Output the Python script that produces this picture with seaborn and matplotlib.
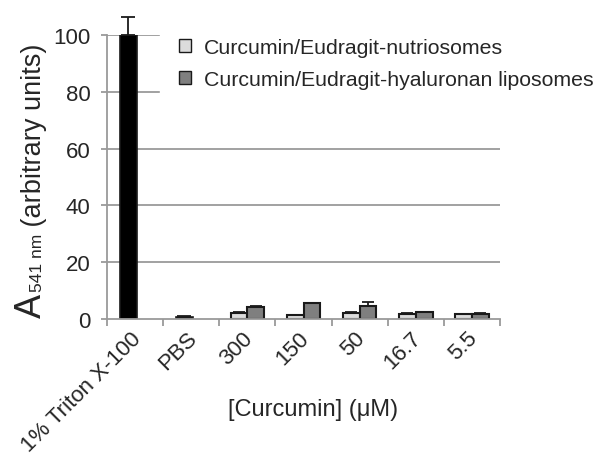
import numpy as np
import pandas as pd
import seaborn as sns
import matplotlib
matplotlib.use("Agg")
import matplotlib.pyplot as plt
from matplotlib.patches import Patch
import matplotlib.transforms as mtransforms

# categories on the x axis
categories = ["1% Triton X-100", "PBS", "300", "150", "50", "16.7", "5.5"]
conc = ["300", "150", "50", "16.7", "5.5"]

# controls (single black bars)
ctrl_names = ["1% Triton X-100", "PBS"]
ctrl_vals = [100.0, 0.7]
ctrl_err = [6.5, 0.3]

# formulations
nutri_vals = [2.1, 1.4, 2.0, 1.7, 1.7]
nutri_err = [0.3, 0.1, 0.6, 0.3, 0.2]
hyal_vals = [4.3, 5.5, 4.7, 2.3, 1.8]
hyal_err = [0.4, 0.3, 1.3, 0.3, 0.2]

lab_nutri = "Curcumin/Eudragit-nutriosomes"
lab_hyal = "Curcumin/Eudragit-hyaluronan liposomes"

df = pd.DataFrame({
    "conc": conc * 2,
    "value": nutri_vals + hyal_vals,
    "series": [lab_nutri] * 5 + [lab_hyal] * 5,
})

sns.set_style("white")
plt.rcParams["font.family"] = ["Liberation Sans", "DejaVu Sans"]

W, H = 598, 456
fig = plt.figure(figsize=(W / 100, H / 100), dpi=100)
ax = fig.add_axes([107 / W, 1 - 320 / H, 393 / W, 284 / H])

grid_c = "#9a9a9a"
ax.set_ylim(0, 100)
ax.set_xlim(-0.5, len(categories) - 0.5)
for y in [20, 40, 60, 80, 100]:
    ax.axhline(y, color=grid_c, lw=1.3, zorder=0)

edge = "#1a1a1a"
sns.barplot(data=df, x="conc", y="value", hue="series", order=categories,
            hue_order=[lab_nutri, lab_hyal],
            palette=["#dcdcdc", "#7f7f7f"], width=0.6, errorbar=None,
            edgecolor=edge, linewidth=1.5, ax=ax, legend=False, zorder=2)

# error bars for formulations (upper only)
idx = np.array([categories.index(c) for c in conc])
ax.errorbar(idx - 0.15, nutri_vals, yerr=[np.zeros(5), nutri_err], fmt="none",
            ecolor=edge, elinewidth=1.3, capsize=4, capthick=1.3, zorder=3)
ax.errorbar(idx + 0.15, hyal_vals, yerr=[np.zeros(5), hyal_err], fmt="none",
            ecolor=edge, elinewidth=1.3, capsize=4, capthick=1.3, zorder=3)

# controls
cidx = np.array([categories.index(c) for c in ctrl_names]) - 0.12
ax.bar(cidx, ctrl_vals, width=0.3, color="black", edgecolor=edge, lw=1.2, zorder=2)
ax.errorbar(cidx, ctrl_vals, yerr=[np.zeros(2), ctrl_err], fmt="none",
            ecolor=edge, elinewidth=1.3, capsize=5, capthick=1.3, zorder=3,
            clip_on=False)

# axes styling
for s in ["top", "right"]:
    ax.spines[s].set_visible(False)
for s in ["left", "bottom"]:
    ax.spines[s].set_color(grid_c)
    ax.spines[s].set_linewidth(1.3)

ax.set_yticks([0, 20, 40, 60, 80, 100])
ax.tick_params(axis="y", direction="out", length=4, width=1.3, color=grid_c,
               labelsize=16, pad=8, left=True)
ax.set_xticks(range(len(categories)))
ax.set_xticklabels(categories, rotation=45, ha="right", rotation_mode="anchor")
ax.tick_params(axis="x", which="major", length=0, labelsize=16, pad=6, bottom=True)
ax.set_xticks(np.arange(-0.5, len(categories)), minor=True)
ax.tick_params(axis="x", which="minor", direction="out", length=5, width=1.3,
               color=grid_c, bottom=True)
offset = mtransforms.ScaledTranslation(-0.05, 0.0, fig.dpi_scale_trans)
for t in ax.get_xticklabels():
    t.set_transform(t.get_transform() + offset)

ax.set_xlabel("")
ax.set_ylabel("")
fig.text(313 / W, 1 - 410 / H, "[Curcumin] (\u03bcM)", fontsize=17,
         ha="center", va="center")

# y label built from three pieces: A, 541 nm, (arbitrary units)
ident = mtransforms.IdentityTransform()
base_x, start_y = 41, H - 318
t1 = fig.text(base_x, start_y, "A", fontsize=26, rotation=90, rotation_mode="anchor",
              ha="left", va="baseline", transform=ident)
fig.canvas.draw()
y2 = t1.get_window_extent().y1 + 2
t2 = fig.text(base_x + 1, y2, "541 nm", fontsize=12.5, rotation=90,
              rotation_mode="anchor", ha="left", va="baseline", transform=ident)
fig.canvas.draw()
y3 = t2.get_window_extent().y1
fig.text(base_x, y3, " (arbitrary units)", fontsize=19.5, rotation=90,
         rotation_mode="anchor", ha="left", va="baseline", transform=ident)

handles = [Patch(facecolor="#dcdcdc", edgecolor=edge, lw=1.0),
           Patch(facecolor="#7f7f7f", edgecolor=edge, lw=1.0)]
leg = fig.legend(handles, [lab_nutri, lab_hyal], loc="upper left",
                 bbox_to_anchor=(160 / W, 1 - 20 / H), frameon=True, fontsize=15.3,
                 handlelength=0.55, handleheight=0.55, handletextpad=0.6,
                 labelspacing=0.62, borderpad=0.9, borderaxespad=0)
leg.get_frame().set_facecolor("white")
leg.get_frame().set_edgecolor("white")
leg.get_frame().set_alpha(1)
leg.get_frame().set_boxstyle("square", pad=0)
leg.set_zorder(5)

fig.savefig("out.png", dpi=100)
